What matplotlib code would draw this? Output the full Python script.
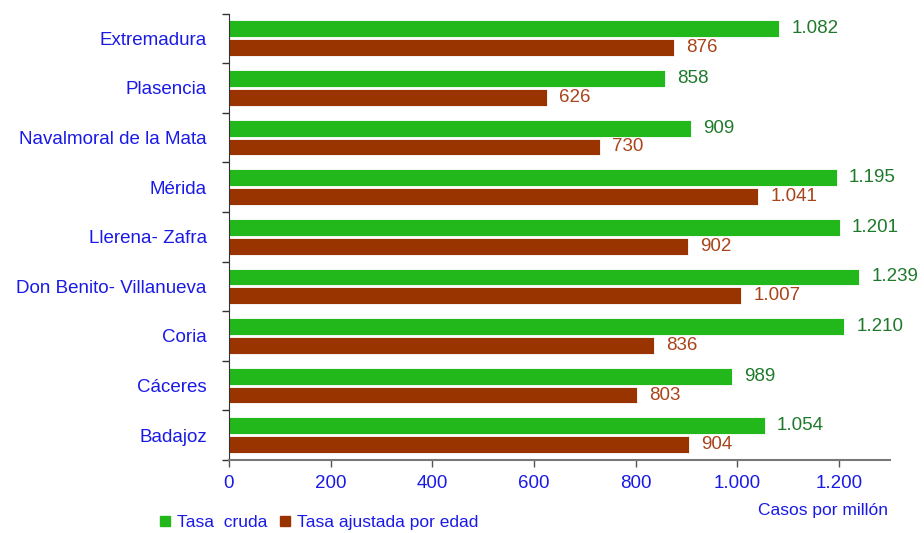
import numpy as np
import matplotlib.pyplot as plt
from matplotlib.lines import Line2D
import matplotlib.ticker as ticker

plt.rcParams['font.family'] = ['Liberation Sans', 'DejaVu Sans']

areas = ['Extremadura', 'Plasencia', 'Navalmoral de la Mata', 'Mérida',
         'Llerena- Zafra', 'Don Benito- Villanueva', 'Coria', 'Cáceres', 'Badajoz']
tasa_cruda = [1082, 858, 909, 1195, 1201, 1239, 1210, 989, 1054]
tasa_ajustada = [876, 626, 730, 1041, 902, 1007, 836, 803, 904]
x_ticks = [0, 200, 400, 600, 800, 1000, 1200]

green = '#22b81c'
brown = '#993300'
blue = '#1a1ae6'


def fmt(v):
    return f'{v:,}'.replace(',', '.')


fig = plt.figure(figsize=(9.24, 5.33), dpi=100)
ax = fig.add_axes([229 / 924, 1 - 460 / 533, (890 - 229) / 924, (460 - 13.5) / 533])

y = np.arange(len(areas))[::-1].astype(float)
h = 0.34
off = 0.19
ax.barh(y + off, tasa_cruda, height=h, color=green, edgecolor='white', linewidth=0.6)
ax.barh(y - off, tasa_ajustada, height=h, color=brown, edgecolor='white', linewidth=0.6)

for yi, c, a in zip(y, tasa_cruda, tasa_ajustada):
    ax.text(c + 24, yi + off, fmt(c), va='center', ha='left', fontsize=13.5, color='#1e7a2a')
    ax.text(a + 24, yi - off, fmt(a), va='center', ha='left', fontsize=13.5, color='#a8441a')

ax.set_xlim(0, 1300)
ax.set_ylim(-0.5, len(areas) - 0.5)
ax.set_xticks(x_ticks)
ax.xaxis.set_major_formatter(ticker.FuncFormatter(lambda v, p: fmt(int(v))))
ax.set_yticks(y)
ax.set_yticklabels(areas)
ax.set_yticks(np.arange(-0.5, len(areas), 1.0), minor=True)
ax.tick_params(axis='y', which='major', length=0, labelsize=13.5, labelcolor=blue, pad=16)
ax.tick_params(axis='y', which='minor', length=5, width=1, color='#333333')
ax.tick_params(axis='x', length=5, width=1, color='#555555', labelsize=13.5, labelcolor=blue, pad=6)

for s in ['top', 'right']:
    ax.spines[s].set_visible(False)
ax.spines['left'].set_color('#333333')
ax.spines['bottom'].set_color('#777777')
ax.spines['bottom'].set_linewidth(1.5)

fig.text(888 / 924, 1 - 510 / 533, 'Casos por millón', ha='right', va='center',
         fontsize=12.5, color=blue)

handles = [Line2D([], [], marker='s', color='none', markerfacecolor=green, markeredgecolor=green, markersize=7),
           Line2D([], [], marker='s', color='none', markerfacecolor=brown, markeredgecolor=brown, markersize=7)]
fig.legend(handles, ['Tasa  cruda', 'Tasa ajustada por edad'], loc='center left',
           bbox_to_anchor=(158 / 924, 1 - 522 / 533), ncol=2, frameon=False, fontsize=12.5,
           labelcolor=blue, handlelength=0.8, handletextpad=0.3, columnspacing=0.6,
           borderpad=0, borderaxespad=0)

fig.savefig('out.png', dpi=100)
